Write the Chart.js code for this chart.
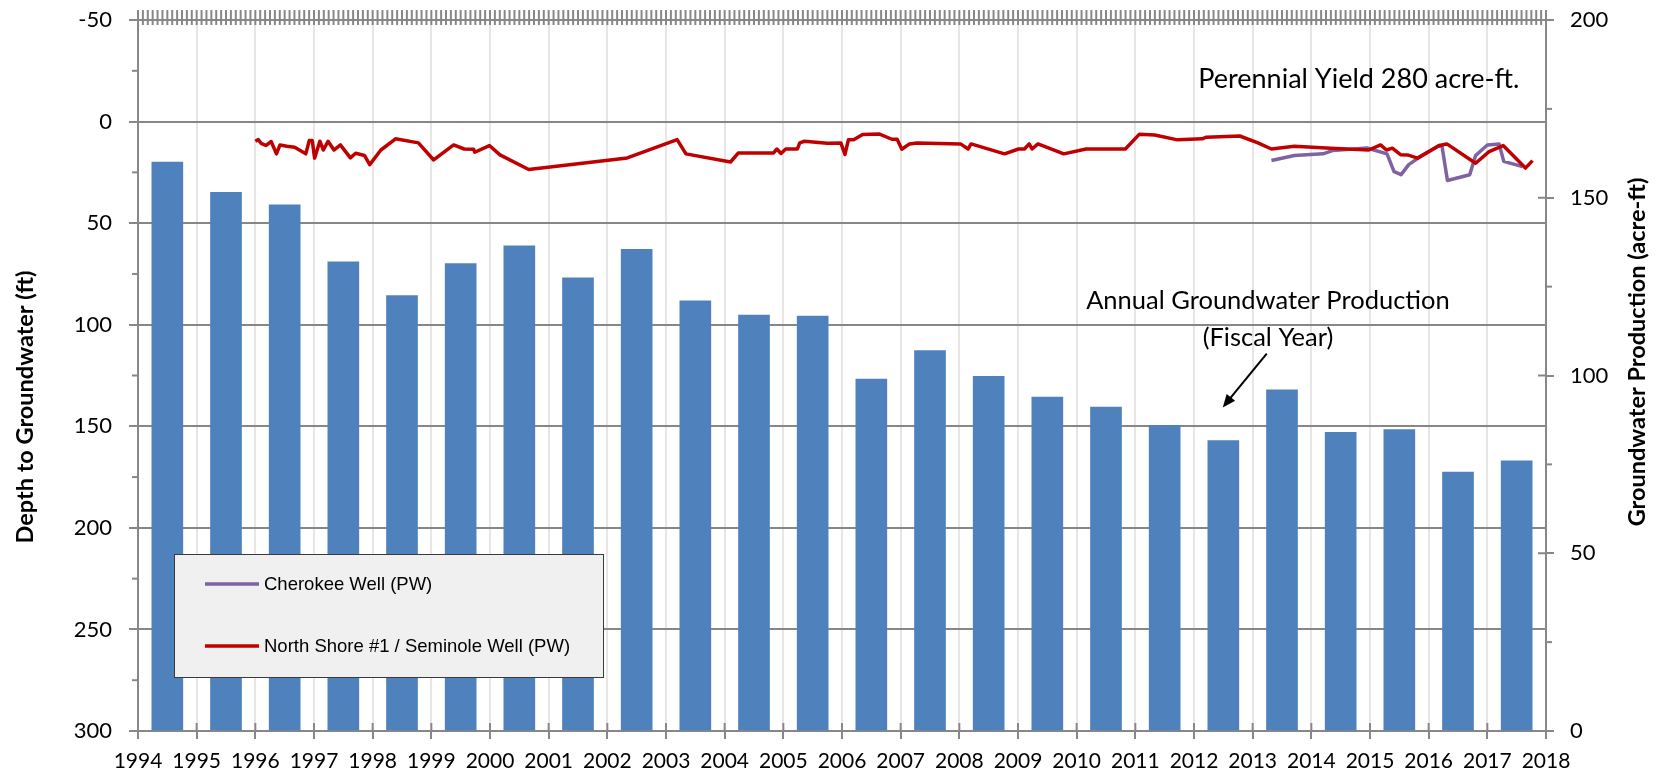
<!DOCTYPE html>
<html>
<head>
<meta charset="utf-8">
<script src="https://cdn.jsdelivr.net/npm/chart.js@4.4.1/dist/chart.umd.min.js"></script>
<style>
  html, body { margin: 0; padding: 0; background: #fff; }
  #wrap { width: 1657px; height: 780px; }
</style>
</head>
<body>
<div id="wrap"><canvas id="chart" width="1657" height="780"></canvas></div>
<script>
// fiscal year production (acre-ft), bars sit in the middle of each year
const fiscalYears = [1994, 1995, 1996, 1997, 1998, 1999, 2000, 2001, 2002, 2003, 2004, 2005,
  2006, 2007, 2008, 2009, 2010, 2011, 2012, 2013, 2014, 2015, 2016, 2017];
const production = [160, 151.5, 148, 132, 122.5, 131.5, 136.5, 127.5, 135.5, 121, 117, 116.7,
  99, 107, 99.8, 93.9, 91.1, 86, 81.7, 96, 84, 84.8, 72.8, 76];

// depth to groundwater (ft)
const northShoreYears = [1996.00, 1996.05, 1996.10, 1996.18, 1996.27, 1996.36, 1996.42, 1996.54, 1996.67, 1996.86,
  1996.92, 1996.97, 1997.01, 1997.10, 1997.16, 1997.24, 1997.34, 1997.45, 1997.62, 1997.71,
  1997.86, 1997.95, 1998.14, 1998.39, 1998.78, 1999.04, 1999.38, 1999.56, 1999.72, 1999.74,
  1999.99, 2000.17, 2000.66, 2002.34, 2003.19, 2003.34, 2004.10, 2004.23, 2004.83, 2004.89,
  2004.96, 2005.04, 2005.24, 2005.28, 2005.36, 2005.75, 2005.98, 2006.05, 2006.11, 2006.20,
  2006.35, 2006.63, 2006.85, 2006.94, 2007.02, 2007.15, 2007.28, 2008.02, 2008.15, 2008.20,
  2008.77, 2009.01, 2009.11, 2009.19, 2009.24, 2009.34, 2009.78, 2010.16, 2010.83, 2011.07,
  2011.33, 2011.72, 2012.14, 2012.21, 2012.78, 2013.09, 2013.32, 2013.71, 2014.33, 2014.98,
  2015.18, 2015.28, 2015.38, 2015.52, 2015.64, 2015.81, 2016.18, 2016.31, 2016.80, 2017.03,
  2017.27, 2017.65, 2017.77];
const northShoreDepth = [9.7, 8.9, 10.7, 11.8, 9.8, 15.9, 11.5, 12.1, 12.6, 15.9,
  9.3, 9.3, 18.0, 9.7, 14.0, 9.7, 14.0, 11.5, 17.9, 15.6,
  16.7, 21.2, 14.0, 8.5, 10.5, 18.9, 11.5, 13.5, 13.6, 15.1,
  11.8, 16.4, 23.6, 17.9, 8.9, 15.9, 19.9, 15.5, 15.5, 13.5,
  15.7, 13.5, 13.5, 10.5, 9.7, 10.7, 10.5, 16.2, 8.9, 8.9,
  6.4, 6.1, 8.7, 8.7, 13.6, 11.0, 10.5, 11.0, 13.5, 11.0,
  15.9, 13.5, 13.5, 11.0, 13.5, 11.0, 15.9, 13.5, 13.5, 6.2,
  6.6, 9.0, 8.5, 7.7, 7.1, 10.5, 13.5, 12.1, 13.1, 14.0,
  11.5, 14.0, 13.1, 16.3, 16.4, 18.0, 11.8, 11.0, 20.5, 14.8,
  11.8, 22.9, 19.2];

const cherokeeYears = [2013.32, 2013.71, 2014.20, 2014.36, 2014.95, 2015.29, 2015.41, 2015.53, 2015.66, 2015.84,
  2016.18, 2016.23, 2016.32, 2016.70, 2016.80, 2017.00, 2017.20, 2017.28, 2017.60];
const cherokeeDepth = [19.2, 16.7, 15.9, 14.3, 13.0, 15.9, 24.6, 26.1, 21.2, 17.6,
  11.8, 12.6, 29.0, 26.2, 16.7, 11.5, 11.0, 19.6, 22.2];

const GRID = '#878787';
const FONT = 'Lato, "Open Sans", sans-serif';

function pairs(xs, ys) {
  return xs.map((x, i) => ({ x: x, y: ys[i] }));
}

function line(ctx, x1, y1, x2, y2, color, w) {
  ctx.strokeStyle = color;
  ctx.lineWidth = w;
  ctx.beginPath();
  ctx.moveTo(x1, y1);
  ctx.lineTo(x2, y2);
  ctx.stroke();
}

// fixed axis sizes, no extra padding for overhanging labels
function fix(size, key) {
  return s => {
    s[key] = size;
    s.paddingTop = 0;
    s.paddingBottom = 0;
    s.paddingLeft = 0;
    s.paddingRight = 0;
  };
}

// extra ticks, legend, notes and axis titles
const decor = {
  id: 'decor',
  afterDraw(chart) {
    const ctx = chart.ctx;
    const a = chart.chartArea;
    const x = chart.scales.x, y = chart.scales.y, y2 = chart.scales.y2;
    ctx.save();

    // monthly ticks across the top edge
    for (let m = 0; m <= 24 * 12; m++) {
      const px = x.getPixelForValue(1994 + m / 12);
      line(ctx, px, a.top - 10, px, a.top + 5, GRID, 2);
    }
    // year ticks cross the bottom axis
    for (let yr = 1994; yr <= 2018; yr++) {
      const px = x.getPixelForValue(yr);
      line(ctx, px, a.bottom - 8, px, a.bottom, GRID, 2);
    }
    // left minor ticks
    for (let v = -25; v < 300; v += 50) {
      const py = y.getPixelForValue(v);
      line(ctx, a.left - 6, py, a.left, py, GRID, 2);
    }
    // right axis: inner part of major ticks, outer minor ticks
    for (let v = 0; v <= 200; v += 50) {
      const py = y2.getPixelForValue(v);
      line(ctx, a.right - 8, py, a.right, py, GRID, 2);
    }
    for (let v = 25; v < 200; v += 50) {
      const py = y2.getPixelForValue(v);
      line(ctx, a.right, py, a.right + 6, py, GRID, 2);
    }

    // legend box
    ctx.fillStyle = '#f0f0f0';
    ctx.fillRect(174, 554, 429, 123);
    ctx.strokeStyle = '#3a3a3a';
    ctx.lineWidth = 1;
    ctx.strokeRect(174.5, 554.5, 429, 123);
    const items = [chart.data.datasets[0], chart.data.datasets[1]];
    ctx.font = '18.5px "Liberation Sans", Arial, sans-serif';
    ctx.textBaseline = 'middle';
    ctx.textAlign = 'left';
    items.forEach((ds, i) => {
      const ly = 584 + i * 62;
      line(ctx, 205, ly, 259, ly, ds.borderColor, 3.5);
      ctx.fillStyle = '#000';
      ctx.fillText(ds.label, 264, ly + 1);
    });

    // notes
    ctx.fillStyle = '#000';
    ctx.textAlign = 'center';
    ctx.font = '27px ' + FONT;
    ctx.fillText('Perennial Yield 280 acre-ft.', x.getPixelForValue(2014.81), y.getPixelForValue(-20.7));
    ctx.font = '25.5px ' + FONT;
    ctx.fillText('Annual Groundwater Production', x.getPixelForValue(2013.26), y.getPixelForValue(88.1));
    ctx.fillText('(Fiscal Year)', x.getPixelForValue(2013.26), y.getPixelForValue(106.3));

    // arrow
    const ax1 = x.getPixelForValue(2013.24), ay1 = y.getPixelForValue(114.2);
    const ax2 = x.getPixelForValue(2012.49), ay2 = y.getPixelForValue(140.7);
    const ang = Math.atan2(ay2 - ay1, ax2 - ax1);
    const hl = 14;
    line(ctx, ax1, ay1, ax2 - Math.cos(ang) * 8, ay2 - Math.sin(ang) * 8, '#000', 2);
    ctx.fillStyle = '#000';
    ctx.beginPath();
    ctx.moveTo(ax2, ay2);
    ctx.lineTo(ax2 - hl * Math.cos(ang - 0.4), ay2 - hl * Math.sin(ang - 0.4));
    ctx.lineTo(ax2 - hl * Math.cos(ang + 0.4), ay2 - hl * Math.sin(ang + 0.4));
    ctx.closePath();
    ctx.fill();

    // axis titles
    ctx.font = 'bold 23.5px ' + FONT;
    ctx.textBaseline = 'middle';
    ctx.save();
    ctx.translate(25, 407);
    ctx.rotate(-Math.PI / 2);
    ctx.fillText('Depth to Groundwater (ft)', 0, 0);
    ctx.restore();
    ctx.save();
    ctx.translate(1637, 352);
    ctx.rotate(-Math.PI / 2);
    ctx.fillText('Groundwater Production (acre-ft)', 0, 0);
    ctx.restore();

    ctx.restore();
  }
};

const ctx = document.getElementById('chart').getContext('2d');
new Chart(ctx, {
  data: {
    datasets: [
      {
        type: 'line',
        label: 'Cherokee Well (PW)',
        data: pairs(cherokeeYears, cherokeeDepth),
        xAxisID: 'x',
        yAxisID: 'y',
        borderColor: '#7f62a1',
        borderWidth: 3.5,
        pointRadius: 0,
        tension: 0,
        borderJoinStyle: 'round',
        order: 2
      },
      {
        type: 'line',
        label: 'North Shore #1 / Seminole Well (PW)',
        data: pairs(northShoreYears, northShoreDepth),
        xAxisID: 'x',
        yAxisID: 'y',
        borderColor: '#c00000',
        borderWidth: 3.5,
        pointRadius: 0,
        tension: 0,
        borderJoinStyle: 'round',
        order: 1
      },
      {
        type: 'bar',
        label: 'Annual Groundwater Production (Fiscal Year)',
        data: fiscalYears.map((yr, i) => ({ x: yr + 0.5, y: production[i] })),
        xAxisID: 'x',
        yAxisID: 'y2',
        backgroundColor: '#4f81bd',
        barThickness: 31,
        order: 3
      }
    ]
  },
  options: {
    responsive: false,
    animation: false,
    devicePixelRatio: 1,
    layout: { padding: 0 },
    plugins: { legend: { display: false }, tooltip: { enabled: false } },
    scales: {
      x: {
        type: 'linear',
        position: 'bottom',
        offset: false,
        min: 1994,
        max: 2018,
        ticks: {
          stepSize: 1,
          maxTicksLimit: 40,
          autoSkip: false,
          maxRotation: 0,
          padding: 10,
          color: '#000',
          font: { family: FONT, size: 21 },
          callback: v => String(v)
        },
        grid: { offset: false, color: '#e6e6e6', lineWidth: 2, tickColor: GRID, tickLength: 8 },
        border: { color: GRID, width: 2 },
        afterFit: fix(49, 'height')
      },
      xTop: {
        type: 'linear',
        position: 'top',
        offset: false,
        min: 1994,
        max: 2018,
        ticks: { display: false },
        grid: { offset: false, drawOnChartArea: false, drawTicks: false },
        border: { color: GRID, width: 2 },
        afterFit: fix(20, 'height')
      },
      y: {
        position: 'left',
        reverse: true,
        min: -50,
        max: 300,
        ticks: { stepSize: 50, padding: 17, color: '#000', font: { family: FONT, size: 22 } },
        grid: { color: GRID, lineWidth: 2, tickColor: GRID, tickLength: 9 },
        border: { color: GRID, width: 2 },
        afterFit: fix(138, 'width')
      },
      y2: {
        position: 'right',
        min: 0,
        max: 200,
        ticks: { stepSize: 50, padding: 16, color: '#000', font: { family: FONT, size: 22 } },
        grid: { drawOnChartArea: false, tickColor: GRID, lineWidth: 2, tickLength: 8 },
        border: { color: GRID, width: 2 },
        afterFit: fix(111, 'width')
      }
    }
  },
  plugins: [decor]
});
</script>
</body>
</html>
